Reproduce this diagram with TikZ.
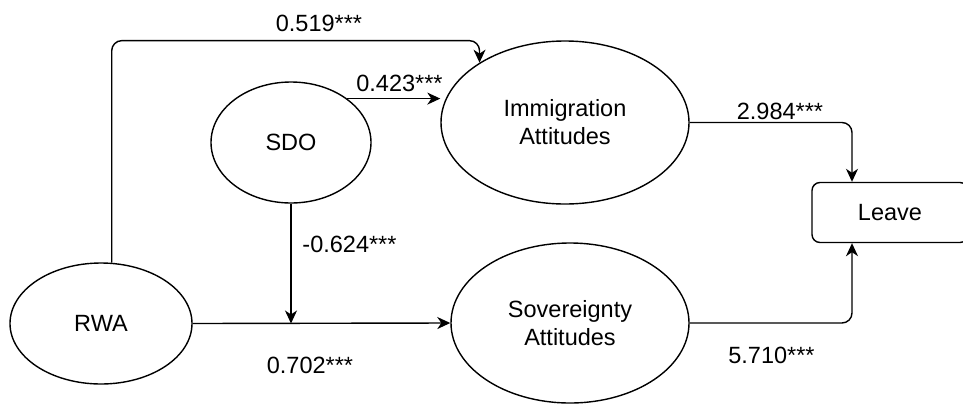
\documentclass[tikz,border=0pt]{standalone}
\usepackage{fontspec}
\setmainfont{Liberation Sans}
\usetikzlibrary{shapes.geometric,arrows.meta}

\begin{document}
\begin{tikzpicture}[x=1pt, y=-1pt,
    latent/.style={ellipse, draw, line width=1.4pt, inner sep=0pt, align=center},
    observed/.style={rectangle, rounded corners=8pt, draw, line width=1.4pt, inner sep=0pt},
    effect/.style={line width=1.4pt, -{Stealth[length=13pt, width=12pt, inset=4pt]}},
    coef/.style={inner sep=0pt},
    font=\fontsize{23.5}{28}\selectfont]

    \useasboundingbox (0,0) rectangle (963,405);
    \clip (0,0) rectangle (963,405);

    % Latent variables
    \node[latent, minimum width=182pt, minimum height=121pt] (rwa) at (101,323.5) {RWA};
    \node[latent, minimum width=160pt, minimum height=121pt] (sdo) at (291,142.5) {SDO};
    \node[latent, minimum width=248pt, minimum height=163pt] (imm) at (565,122.5) {Immigration\\Attitudes};
    \node[latent, minimum width=238pt, minimum height=160pt] (sov) at (570,323) {Sovereignty\\Attitudes};

    % Outcome, cut at the right edge
    \node[observed, minimum width=156pt, minimum height=60pt] (leave) at (890,212.5) {Leave};

    % RWA -> Immigration over the top
    \draw[effect, rounded corners=10pt] (rwa.80) |- ([yshift=22pt]imm.145.7) -- (imm.145.7);

    % SDO -> Immigration
    \draw[effect] (sdo.38) -- (sdo.38 -| imm.west);

    % SDO down onto the RWA path
    \draw[effect] (sdo.south) -- (sdo.south |- rwa.east);

    % RWA -> Sovereignty
    \draw[effect] (rwa.east) -- (sov.west);

    % Attitudes -> Leave
    \draw[effect, rounded corners=10pt] (imm.east) -| ([xshift=-38pt]leave.north);
    \draw[effect, rounded corners=10pt] (sov.east) -| ([xshift=-38pt]leave.south);

    % Coefficients
    \node[coef] (c519) at (319,23.5) {0.519***};
    \node[coef] (c423) at (399.5,83.5) {0.423***};
    \node[coef] (c624) at (349.5,244) {-0.624***};
    \node[coef] (c702) at (310,365) {0.702***};
    \node[coef] (c984) at (780,111.5) {2.984***};
    \node[coef] (c710) at (771.5,355) {5.710***};

\end{tikzpicture}
\end{document}
